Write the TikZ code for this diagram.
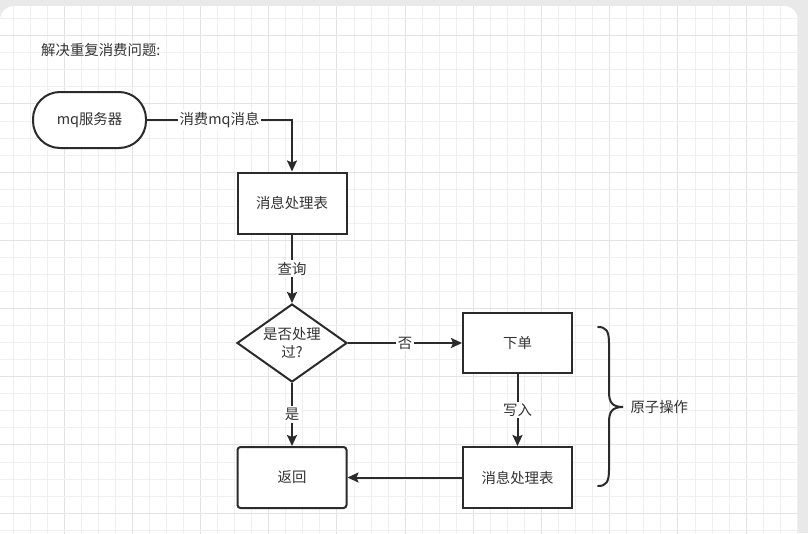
\documentclass[tikz,border=0pt]{standalone}
\usepackage{fontspec}
\setmainfont{Noto Sans CJK SC}
\usetikzlibrary{arrows.meta,shapes.geometric}
\definecolor{framegray}{HTML}{E9E9E9}
\definecolor{gridminor}{HTML}{F0F0F0}
\definecolor{gridmajor}{HTML}{E3E3E3}
\definecolor{linec}{HTML}{2B2B2B}
\definecolor{txt}{HTML}{333333}
\tikzset{
  txtfont/.style={font=\fontsize{14.4}{18}\selectfont, text=txt},
  box/.style={draw=linec, line width=2pt, fill=white, minimum width=109pt, minimum height=61pt, inner sep=0pt, txtfont},
  stadium/.style={draw=linec, line width=2pt, fill=white, minimum width=113pt, minimum height=56pt, rounded corners=27pt, inner sep=0pt, txtfont},
  dia/.style={diamond, draw=linec, line width=2pt, fill=white, minimum width=110pt, minimum height=78pt, inner xsep=-14pt, inner ysep=-8pt, align=center, txtfont},
  arr/.style={draw=linec, line width=2pt, -{Stealth[length=11pt,width=10pt,inset=2pt]}},
  lbl/.style={fill=white, inner sep=2pt, txtfont},
}
\begin{document}
\begin{tikzpicture}[x=1pt,y=-1pt]
\useasboundingbox (0,0) rectangle (808,533);
\fill[framegray] (0,0) rectangle (808,533);
\begin{scope}
  \clip[rounded corners=14pt] (0,6) rectangle (798,560);
  \fill[white] (0,6) rectangle (798,560);
  \foreach \k in {-4,...,44}{
    \pgfmathsetmacro{\xx}{64+17.05*\k}
    \pgfmathtruncatemacro{\m}{mod(\k+400,4)}
    \ifnum\m=0
      \draw[gridmajor, line width=0.9pt] (\xx,0) -- (\xx,540);
    \else
      \draw[gridminor, line width=0.7pt] (\xx,0) -- (\xx,540);
    \fi
  }
  \foreach \k in {-10,...,22}{
    \pgfmathsetmacro{\yy}{172+17.05*\k}
    \pgfmathtruncatemacro{\m}{mod(\k+400,4)}
    \ifnum\m=0
      \draw[gridmajor, line width=0.9pt] (0,\yy) -- (800,\yy);
    \else
      \draw[gridminor, line width=0.7pt] (0,\yy) -- (800,\yy);
    \fi
  }
\end{scope}

\node[txtfont, anchor=west, inner sep=0pt] (title) at (41,50) {解决重复消费问题:};

\node[stadium] (mq) at (89.5,120) {mq服务器};
\node[box] (t1) at (292,203) {消息处理表};
\node[dia] (d) at (292,343) {是否处理\\过?};
\node[box, minimum height=60pt] (order) at (517.5,343) {下单};
\node[box] (t2) at (517.5,477.5) {消息处理表};
\node[box, rounded corners=3pt] (ret) at (292,477.5) {返回};

\draw[arr] (mq.east) -| (t1.north);
\path (mq.east) -- node[lbl] (l1) {消费mq消息} (mq.east -| t1.north);
\draw[arr] (t1) -- node[lbl] (l2) {查询} (d);
\draw[arr] (d) -- node[lbl] (l3) {否} (order);
\draw[arr] (order) -- node[lbl] (l4) {写入} (t2);
\draw[arr] (d) -- node[lbl] (l5) {是} (ret);
\draw[arr] (t2) -- (ret);

\coordinate (bt) at (598,327);
\coordinate (bm) at (623,407);
\coordinate (bb) at (598,486);
\draw[linec, line width=2pt, line cap=round]
  (bt) .. controls (606,327) and (609,331) .. (609,343) -- (609,392)
  .. controls (609,402) and (612,407) .. (bm)
  .. controls (612,407) and (609,412) .. (609,422) -- (609,470)
  .. controls (609,482) and (606,486) .. (bb);
\node[txtfont, anchor=west] (atom) at (627,407) {原子操作};
\end{tikzpicture}
\end{document}
